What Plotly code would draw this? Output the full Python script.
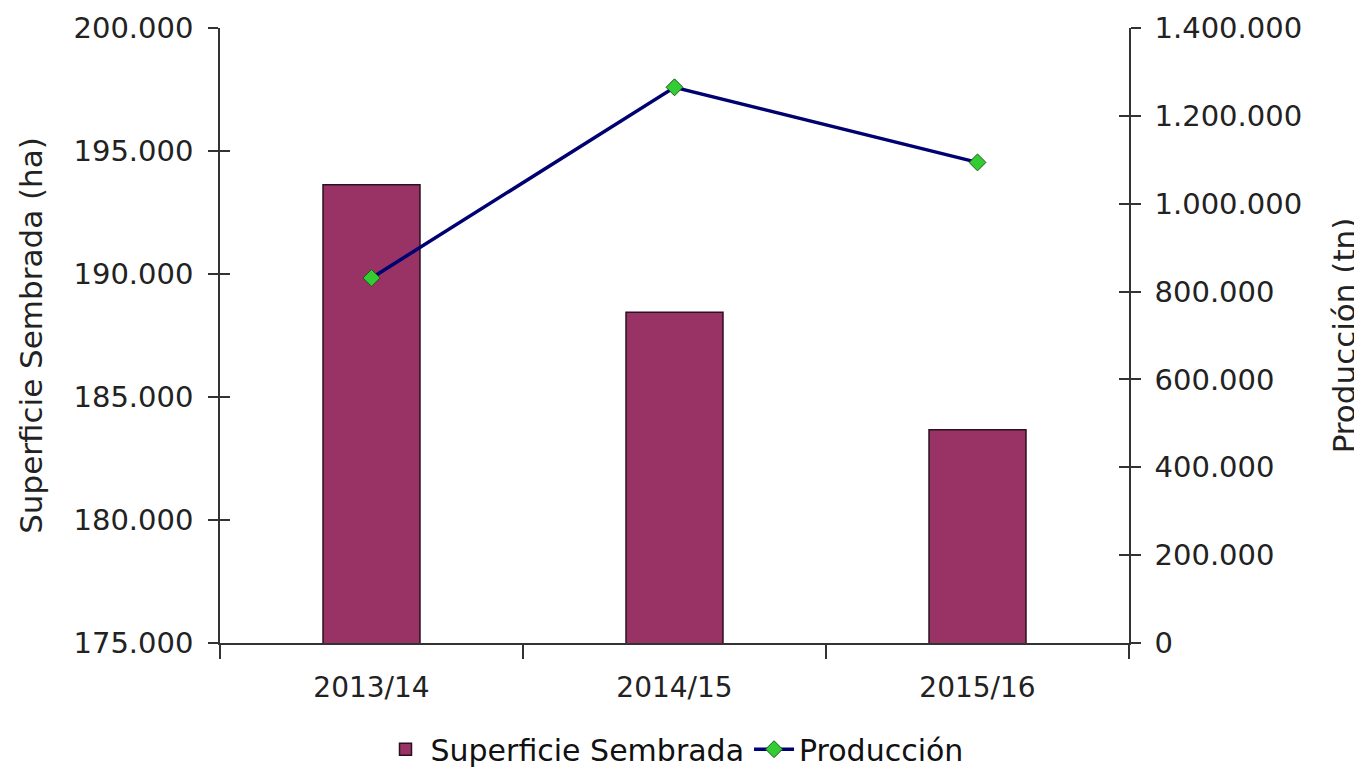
import plotly.graph_objects as go

campanas = ["2013/14", "2014/15", "2015/16"]
superficie = [193630, 188450, 183670]
produccion = [831000, 1265000, 1094000]

FONT = "DejaVu Sans"
TXT = "#222222"
AX = "#333333"

fig = go.Figure()
fig.add_trace(go.Bar(
    x=campanas, y=superficie, name="Superficie Sembrada",
    marker=dict(color="#993366", line=dict(color="#2a1020", width=1.5)),
    yaxis="y",
))
fig.add_trace(go.Scatter(
    x=campanas, y=produccion, name="Producción", mode="lines+markers",
    line=dict(color="#000070", width=3.5),
    marker=dict(symbol="diamond", size=13, color="#33cc33",
                line=dict(color="#1a5a1a", width=1)),
    yaxis="y2",
))

common_y = dict(showgrid=False, zeroline=False, automargin=False,
                tickcolor=AX, tickwidth=1.5)

fig.update_layout(
    width=1362, height=774,
    margin=dict(l=212, r=241, t=20, b=139),
    paper_bgcolor="white", plot_bgcolor="white",
    separators=",.",
    bargap=0.68,
    font=dict(family=FONT, color=TXT),
    showlegend=True,
    legend=dict(orientation="h", x=0.5, xanchor="center",
                yref="container", y=0.076, yanchor="top",
                font=dict(family=FONT, size=30, color="#111111"),
                itemwidth=40, traceorder="normal"),
    xaxis=dict(
        type="category", showline=True, linecolor=AX, linewidth=1.5,
        ticks="outside", tickson="boundaries", ticklen=14, tickcolor=AX, tickwidth=1.5,
        tickfont=dict(family=FONT, size=28, color=TXT), showgrid=False,
        zeroline=False, automargin=False, ticklabelstandoff=19,
    ),
    yaxis=dict(
        range=[175000, 200000], dtick=5000, tick0=175000, tickformat=",d",
        showline=True, linecolor=AX, linewidth=1.5,
        ticks="outside", ticklen=10,
        tickfont=dict(family=FONT, size=29, color=TXT), ticklabelstandoff=9,
        title=dict(text="Superficie Sembrada (ha)", font=dict(family=FONT, size=31, color=TXT),
                   standoff=22),
        **common_y,
    ),
    yaxis2=dict(
        range=[0, 1400000], dtick=200000, tickformat=",d", overlaying="y", side="right",
        showline=True, linecolor=AX, linewidth=1.5,
        ticks="outside", ticklen=10,
        tickfont=dict(family=FONT, size=29, color=TXT), ticklabelstandoff=8,
        title=dict(text="Producción (tn)", font=dict(family=FONT, size=31, color=TXT),
                   standoff=32),
        **common_y,
    ),
    yaxis3=dict(
        range=[175000, 200000], dtick=5000, tick0=175000, overlaying="y", side="left",
        ticks="inside", ticklen=10, showticklabels=False, showline=False,
        **common_y,
    ),
    yaxis4=dict(
        range=[0, 1400000], dtick=200000, overlaying="y", side="right",
        ticks="inside", ticklen=10, showticklabels=False, showline=False,
        **common_y,
    ),
)

# invisible helper traces so the inside-tick axes are drawn
fig.add_trace(go.Scatter(x=campanas, y=superficie, yaxis="y3", mode="none",
                         showlegend=False, hoverinfo="skip"))
fig.add_trace(go.Scatter(x=campanas, y=produccion, yaxis="y4", mode="none",
                         showlegend=False, hoverinfo="skip"))

fig.write_html("out.html")
